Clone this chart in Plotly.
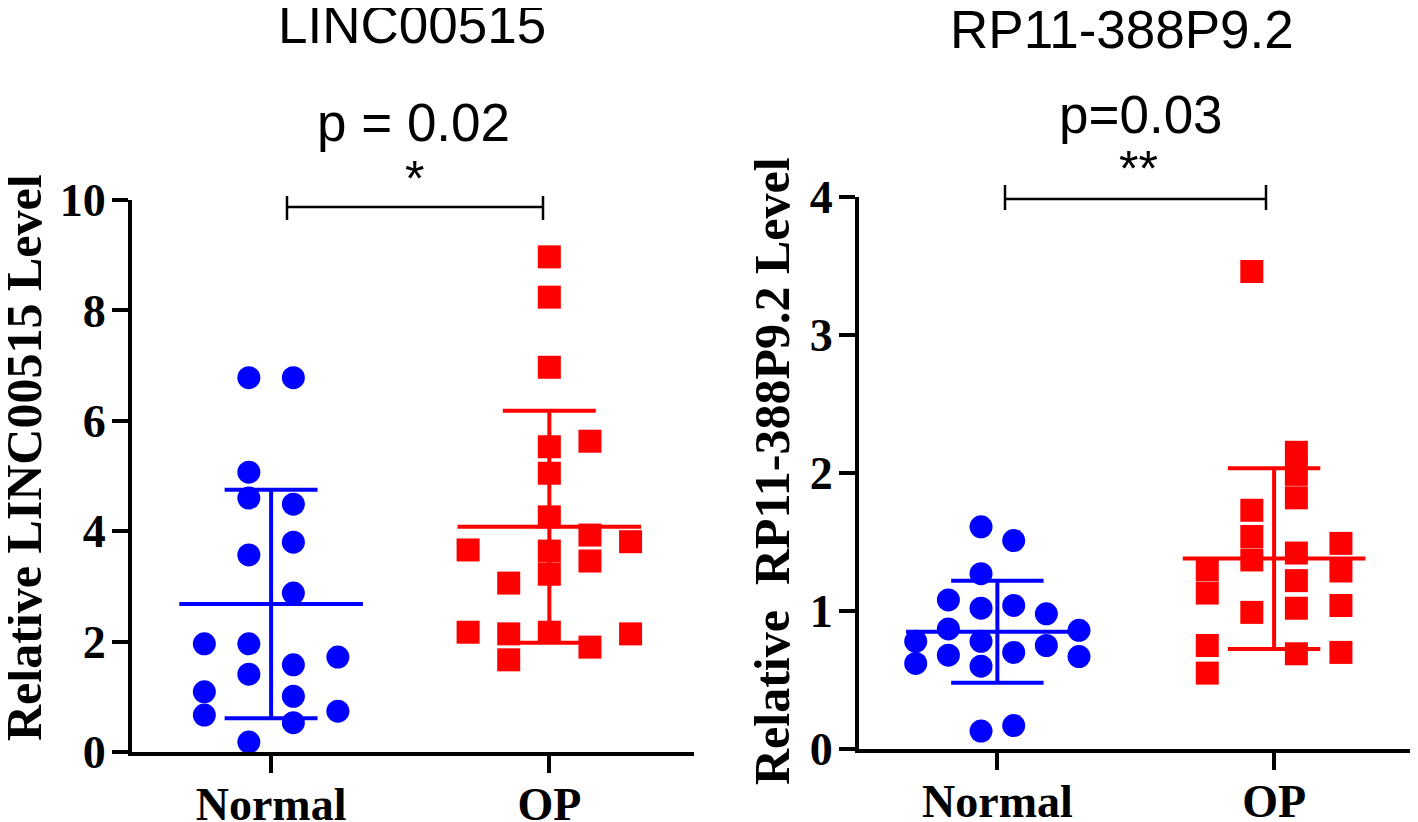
import plotly.graph_objects as go

# ---------------- data ----------------
categories = ["Normal", "OP"]

# LINC00515 panel
linc_normal = [6.78, 6.78, 5.07, 4.60, 4.49, 3.57, 3.80, 2.88, 1.96, 1.96,
               1.58, 1.72, 1.41, 1.09, 1.01, 0.67, 0.74, 0.53, 0.18]
linc_normal_slot = [-0.5, 0.5, -0.5, -0.5, 0.5, -0.5, 0.5, 0.5, -1.5, -0.5,
                    0.5, 1.5, -0.5, -1.5, 0.5, -1.5, 1.5, 0.5, -0.5]
linc_op = [8.97, 8.24, 6.97, 5.63, 5.53, 5.05, 4.26, 3.93, 3.81, 3.66,
           3.64, 3.46, 3.06, 3.22, 2.17, 2.14, 2.17, 2.14, 1.90, 1.67]
linc_op_slot = [0, 0, 0, 1, 0, 0, 0, 1, 2, -2,
                0, 1, -1, 0, -2, -1, 0, 2, 1, -1]
linc_mean = [2.68, 4.08]
linc_sd = [2.07, 2.10]

# RP11-388P9.2 panel
rp_normal = [1.61, 1.51, 1.27, 1.08, 1.02, 1.04, 0.98, 0.87, 0.86, 0.78,
             0.78, 0.75, 0.70, 0.62, 0.68, 0.60, 0.67, 0.13, 0.17]
rp_normal_slot = [-0.5, 0.5, -0.5, -1.5, -0.5, 0.5, 1.5, -1.5, 2.5, -2.5,
                  -0.5, 1.5, 0.5, -2.5, -1.5, -0.5, 2.5, -0.5, 0.5]
rp_op = [3.46, 2.15, 1.99, 1.82, 1.73, 1.54, 1.49, 1.37, 1.42, 1.30,
         1.29, 1.22, 1.13, 1.04, 0.99, 1.02, 0.75, 0.69, 0.70, 0.55]
rp_op_slot = [-0.5, 0.5, 0.5, 0.5, -0.5, -0.5, 1.5, -0.5, 0.5, -1.5,
              1.5, 0.5, -1.5, 1.5, -0.5, 0.5, -1.5, 0.5, 1.5, -1.5]
rp_mean = [0.85, 1.38]
rp_sd = [0.37, 0.655]

titles = ["LINC00515", "RP11-388P9.2"]
pvals = ["p = 0.02", "p=0.03"]
stars = ["*", "**"]
ytitles = ["Relative LINC00515 Level", "Relative\u00a0 RP11-388P9.2 Level"]

# ---------------- styling ----------------
PAGE_MARGIN = 8          # default body margin of the html page
W, H = 1418 - PAGE_MARGIN, 822 - PAGE_MARGIN
BLUE = "#0000FF"
RED = "#FF0000"
SERIF = "Liberation Serif"
SANS = "Liberation Sans"


def px(x):
    return (x - PAGE_MARGIN) / W


def py(y):
    return 1 - (y - PAGE_MARGIN) / H


fig = go.Figure()


def add_group(xaxis, yaxis, center, vals, slots, spacing, color, symbol, mean, sd):
    xs = [center + s * spacing for s in slots]
    fig.add_trace(go.Scatter(
        x=xs, y=vals, mode="markers", xaxis=xaxis, yaxis=yaxis,
        marker=dict(color=color, size=23, symbol=symbol, line=dict(width=0)),
        cliponaxis=False, showlegend=False, hoverinfo="skip"))
    lw = 4
    fig.add_trace(go.Scatter(
        x=[center - 0.33, center + 0.33], y=[mean, mean], mode="lines",
        xaxis=xaxis, yaxis=yaxis, line=dict(color=color, width=lw),
        cliponaxis=False, showlegend=False, hoverinfo="skip"))
    fig.add_trace(go.Scatter(
        x=[center, center, None, center - 0.167, center + 0.167, None,
           center - 0.167, center + 0.167],
        y=[mean - sd, mean + sd, None, mean + sd, mean + sd, None,
           mean - sd, mean - sd],
        mode="lines", xaxis=xaxis, yaxis=yaxis,
        line=dict(color=color, width=lw), cliponaxis=False,
        showlegend=False, hoverinfo="skip"))


add_group("x", "y", 0, linc_normal, linc_normal_slot, 0.16, BLUE, "circle",
          linc_mean[0], linc_sd[0])
add_group("x", "y", 1, linc_op, linc_op_slot, 0.146, RED, "square",
          linc_mean[1], linc_sd[1])
add_group("x2", "y2", 0, rp_normal, rp_normal_slot, 0.118, BLUE, "circle",
          rp_mean[0], rp_sd[0])
add_group("x2", "y2", 1, rp_op, rp_op_slot, 0.161, RED, "square",
          rp_mean[1], rp_sd[1])

tickfont = dict(family=SERIF, size=46, color="black", weight="bold")
xtickfont = dict(family=SERIF, size=46, color="black", weight="bold")

xcommon = dict(range=[-0.5, 1.52], tickvals=[0, 1], ticktext=categories,
               showline=True, linecolor="black", linewidth=4, ticks="outside",
               ticklen=17, tickwidth=4, tickcolor="black", showgrid=False,
               zeroline=False, tickfont=xtickfont, fixedrange=True,
               automargin=False, ticklabelstandoff=-8)
ycommon = dict(showline=True, linecolor="black", linewidth=4, ticks="outside",
               ticklen=16, tickwidth=4, tickcolor="black", showgrid=False,
               zeroline=False, tickfont=tickfont, fixedrange=True,
               automargin=False, ticklabelstandoff=-3)

fig.update_layout(
    width=W, height=H,
    margin=dict(l=0, r=0, t=0, b=0, autoexpand=False),
    paper_bgcolor="white", plot_bgcolor="white",
    xaxis=dict(domain=[px(132), px(694)], anchor="y", **xcommon),
    yaxis=dict(domain=[py(752), py(200)], anchor="x", range=[0, 10],
               tickvals=[0, 2, 4, 6, 8, 10], **ycommon),
    xaxis2=dict(domain=[px(859), 1.0], anchor="y2", **xcommon),
    yaxis2=dict(domain=[py(749), py(197)], anchor="x2", range=[0, 4],
                tickvals=[0, 1, 2, 3, 4], **ycommon),
)

ann = []
ann.append(dict(text=titles[0], x=px(412), y=py(24), xref="paper", yref="paper",
                showarrow=False, font=dict(family=SANS, size=53, color="black"),
                xanchor="center", yanchor="middle"))
ann.append(dict(text=titles[1], x=px(1122), y=py(29), xref="paper", yref="paper",
                showarrow=False, font=dict(family=SANS, size=53, color="black"),
                xanchor="center", yanchor="middle"))
ann.append(dict(text=pvals[0], x=px(413), y=py(122), xref="paper", yref="paper",
                showarrow=False, font=dict(family=SANS, size=53, color="black"),
                xanchor="center", yanchor="middle"))
ann.append(dict(text=pvals[1], x=px(1141), y=py(115), xref="paper", yref="paper",
                showarrow=False, font=dict(family=SANS, size=53, color="black"),
                xanchor="center", yanchor="middle"))
ann.append(dict(text=stars[0], x=px(414), y=py(179), xref="paper", yref="paper",
                showarrow=False, font=dict(family=SANS, size=50, color="black"),
                xanchor="center", yanchor="middle"))
ann.append(dict(text=stars[1], x=px(1138), y=py(169), xref="paper", yref="paper",
                showarrow=False, font=dict(family=SANS, size=50, color="black"),
                xanchor="center", yanchor="middle"))
ann.append(dict(text=ytitles[0], x=px(24), y=py(458), xref="paper", yref="paper",
                showarrow=False, textangle=-90,
                font=dict(family=SERIF, size=50, color="black", weight="bold"),
                xanchor="center", yanchor="middle"))
ann.append(dict(text=ytitles[1], x=px(772), y=py(471), xref="paper", yref="paper",
                showarrow=False, textangle=-90,
                font=dict(family=SERIF, size=50, color="black", weight="bold"),
                xanchor="center", yanchor="middle"))
fig.update_layout(annotations=ann)

shapes = []
for (x0, x1, yb, yt, ybt) in [(287, 543, 207, 196, 220), (1005, 1266, 199, 185, 210)]:
    shapes.append(dict(type="line", xref="paper", yref="paper",
                       x0=px(x0), x1=px(x1), y0=py(yb), y1=py(yb),
                       line=dict(color="black", width=2.5)))
    for xx in (x0, x1):
        shapes.append(dict(type="line", xref="paper", yref="paper",
                           x0=px(xx), x1=px(xx), y0=py(yt), y1=py(ybt),
                           line=dict(color="black", width=2.5)))
fig.update_layout(shapes=shapes)

fig.write_html("out.html")
